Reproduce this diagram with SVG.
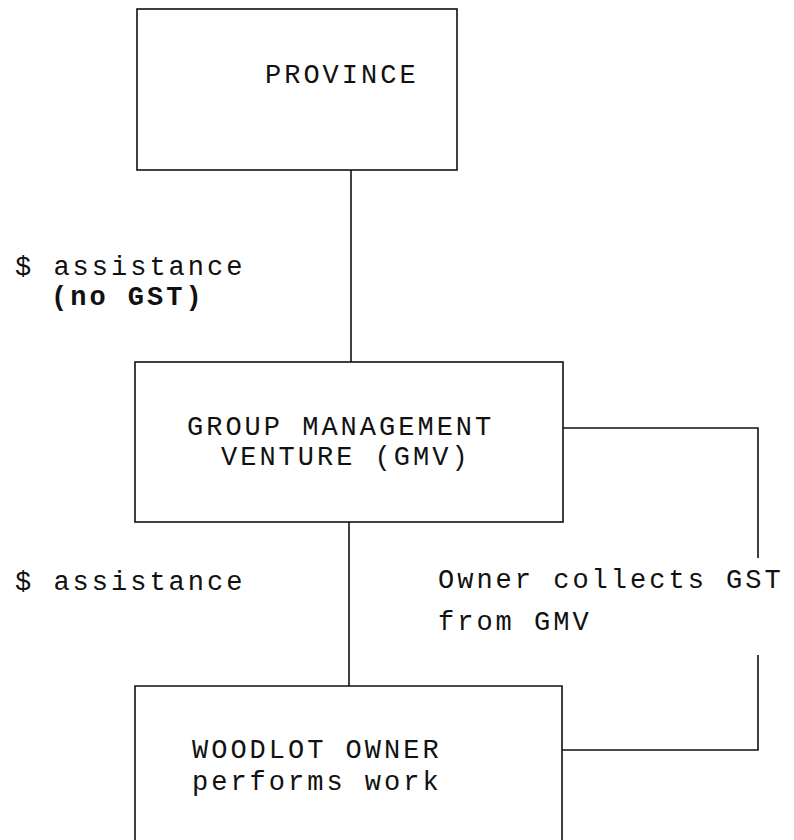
<svg xmlns="http://www.w3.org/2000/svg" width="794" height="840" viewBox="0 0 794 840">
  <style>
    .box { fill: none; stroke: #111; stroke-width: 1.6; }
    .wire { fill: none; stroke: #111; stroke-width: 1.6; }
    text { font-family: "Liberation Mono", "Courier New", monospace; font-size: 27px; letter-spacing: 3px; fill: #111; }
    .b { font-weight: bold; }
  </style>
  <rect width="794" height="840" fill="#fff"/>

  <g id="connectors">
    <line class="wire" x1="351" y1="170" x2="351" y2="362"/>
    <line class="wire" x1="349" y1="522" x2="349" y2="686"/>
    <polyline class="wire" points="563,428 758,428 758,558"/>
    <polyline class="wire" points="758,655 758,750 562,750"/>
  </g>

  <g id="province">
    <rect class="box" x="137" y="9" width="320" height="161"/>
    <text x="265" y="83">PROVINCE</text>
  </g>

  <g id="label-assistance-no-gst">
    <text x="15" y="275">$ assistance</text>
    <text class="b" x="51" y="305">(no GST)</text>
  </g>

  <g id="gmv">
    <rect class="box" x="135" y="362" width="428" height="160"/>
    <text x="187" y="435">GROUP MANAGEMENT</text>
    <text x="221" y="465">VENTURE (GMV)</text>
  </g>

  <g id="label-assistance">
    <text x="15" y="590">$ assistance</text>
  </g>

  <g id="label-owner-collects">
    <text x="438" y="588">Owner collects GST</text>
    <text x="438" y="630">from GMV</text>
  </g>

  <g id="woodlot-owner">
    <path class="box" d="M135,845 V686 H562 V845"/>
    <text x="192" y="758">WOODLOT OWNER</text>
    <text x="192" y="790">performs work</text>
  </g>
</svg>
